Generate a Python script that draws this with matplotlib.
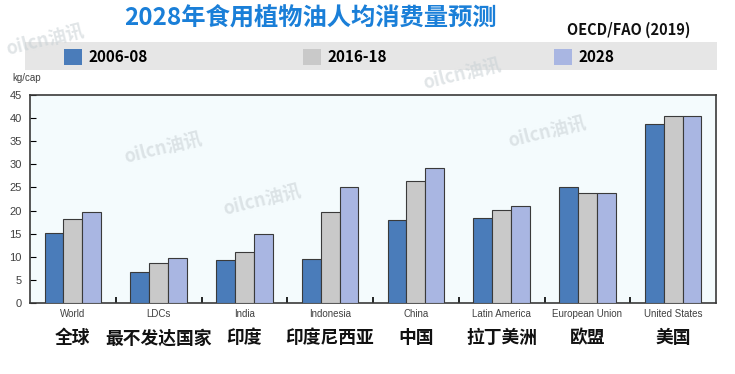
import numpy as np
import matplotlib.pyplot as plt
from matplotlib.patches import Rectangle

plt.rcParams['font.family'] = ['Noto Sans CJK SC', 'DejaVu Sans']

# data (kg per capita)
regions_en = ['World', 'LDCs', 'India', 'Indonesia', 'China',
              'Latin America', 'European Union', 'United States']
regions_cn = ['全球', '最不发达国家', '印度', '印度尼西亚', '中国',
              '拉丁美洲', '欧盟', '美国']
series_names = ['2006-08', '2016-18', '2028']
v_2006_08 = [15.1, 6.6, 9.4, 9.5, 18.0, 18.3, 25.0, 38.7]
v_2016_18 = [18.2, 8.7, 11.0, 19.7, 26.4, 20.1, 23.7, 40.5]
v_2028 = [19.7, 9.7, 14.9, 25.0, 29.1, 20.9, 23.7, 40.5]
yticks = [0, 5, 10, 15, 20, 25, 30, 35, 40, 45]

colors = ['#4a7cba', '#c9c9c9', '#a9b6e2']

fig = plt.figure(figsize=(7.35, 3.74), dpi=100)
fig.patch.set_facecolor('white')
ax = fig.add_axes([30/735, 71/374, 686/735, 208/374])
ax.set_facecolor('#f4fbfd')

x = np.arange(len(regions_en))
w = 0.22
bars = []
for k, vals in enumerate([v_2006_08, v_2016_18, v_2028]):
    b = ax.bar(x + (k - 1) * w, vals, w, color=colors[k], edgecolor='#3a3a3a',
               linewidth=0.8, label=series_names[k], zorder=3)
    bars.append(b)

ax.set_xlim(-0.5, len(regions_en) - 0.5)
ax.set_ylim(0, 45)
ax.set_yticks(yticks)
ax.tick_params(axis='y', direction='in', length=4, width=0.8, labelsize=8,
               labelcolor='#404040', pad=6)
ax.set_xticks(x)
ax.set_xticklabels(regions_en, fontsize=7, color='#404040', family='Liberation Sans')
ax.tick_params(axis='x', which='major', length=0, pad=4)
ax.set_xticks(np.arange(0.5, len(regions_en) - 0.5, 1), minor=True)
ax.tick_params(axis='x', which='minor', direction='in', length=4, width=1.2)
for lab in ax.get_yticklabels():
    lab.set_family('Liberation Sans')
for s in ax.spines.values():
    s.set_color('#3a3a3a')
    s.set_linewidth(1.2)

# chinese category names under the english ones
for i, name in enumerate(regions_cn):
    ax.text(i, -0.17, name, transform=ax.get_xaxis_transform(), ha='center',
            va='center', fontsize=12.8, fontweight='black', color='#111111')

fig.text(12/735, 1 - 78/374, 'kg/cap', fontsize=7, color='#404040',
         family='Liberation Sans', va='center')

# title and source
fig.text(310/735, 1 - 19/374, '2028年食用植物油人均消费量预测', ha='center', va='center',
         fontsize=17.5, fontweight='bold', color='#1a7fd8')
fig.text(690/735, 1 - 30/374, 'OECD/FAO (2019)', ha='right', va='center',
         fontsize=10.5, fontweight='bold', color='#111111')

# legend band
fig.patches.append(Rectangle((25/735, 1 - 70/374), 692/735, 28/374,
                             transform=fig.transFigure, facecolor='#e6e6e6',
                             edgecolor='none', zorder=0))
for b, name, lx in zip(bars, series_names, [58, 297, 548]):
    leg = fig.legend([b[0]], [name], loc='center left',
                     bbox_to_anchor=(lx/735, 1 - 57/374), frameon=False,
                     handlelength=1.15, handleheight=1.25, handletextpad=0.45,
                     borderaxespad=0, prop={'size': 11, 'weight': 'bold'})
    for h in leg.legend_handles:
        h.set_edgecolor('none')

# watermarks
for (wx, wy) in [(45, 40), (163, 148), (262, 200), (547, 132), (462, 74)]:
    fig.text(wx/735, 1 - wy/374, 'oilcn油讯', ha='center', va='center',
             fontsize=13, fontweight='bold', color='#c8d0d4', alpha=0.55,
             rotation=14, zorder=10)

fig.savefig('out.png', dpi=100)
